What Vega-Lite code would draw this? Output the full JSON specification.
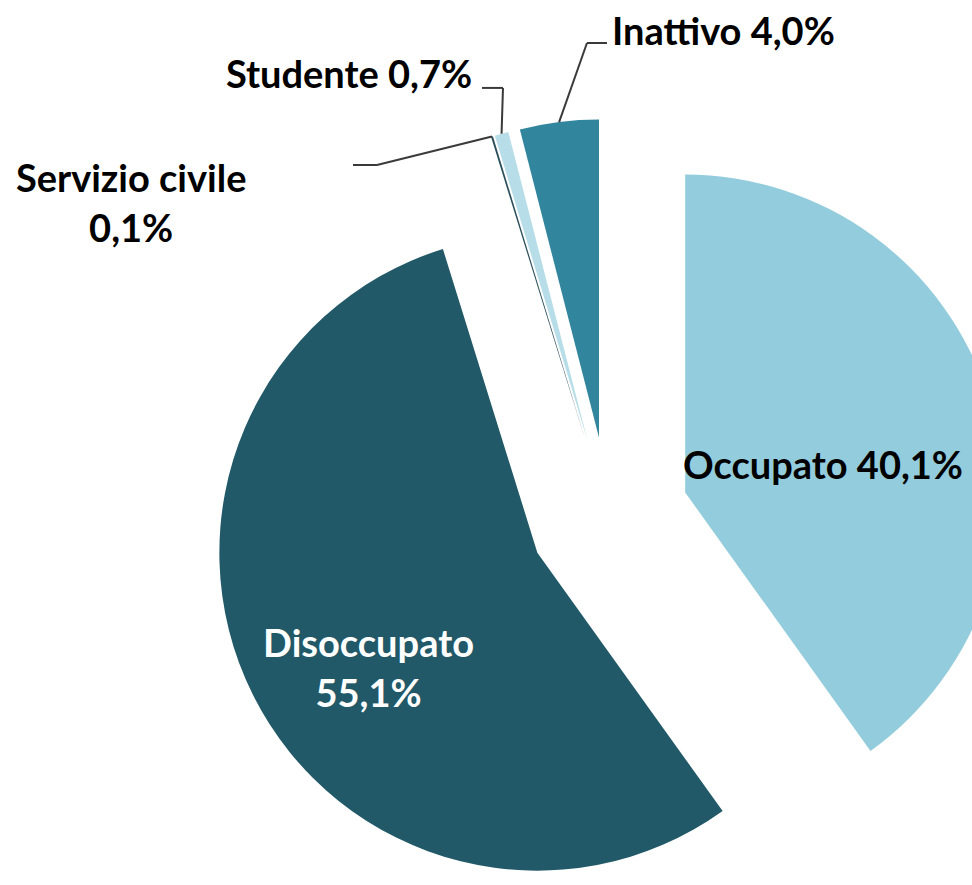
{
  "$schema": "https://vega.github.io/schema/vega-lite/v6.json",
  "width": 972,
  "height": 885,
  "autosize": "none",
  "padding": 0,
  "background": "white",
  "config": {"view": {"stroke": null}},
  "data": {
    "values": [
      {"cat": "Occupato", "pct": 40.1, "order": 1, "label": "Occupato 40,1%"},
      {"cat": "Disoccupato", "pct": 55.1, "order": 2, "label": "Disoccupato\n55,1%"},
      {"cat": "Servizio civile", "pct": 0.1, "order": 3, "label": "Servizio civile\n0,1%"},
      {"cat": "Studente", "pct": 0.7, "order": 4, "label": "Studente 0,7%"},
      {"cat": "Inattivo", "pct": 4.0, "order": 5, "label": "Inattivo 4,0%"}
    ]
  },
  "transform": [
    {"window": [{"op": "sum", "field": "pct", "as": "cum"}], "sort": [{"field": "order"}], "frame": [null, 0]},
    {"calculate": "datum.cum - datum.pct", "as": "cum0"},
    {"calculate": "datum.cum - datum.pct / 2", "as": "midp"},
    {"calculate": "2 * PI * datum.midp / 100", "as": "mid"},
    {"calculate": "0.244 * sin(datum.mid)", "as": "dx"},
    {"calculate": "0.244 * cos(datum.mid)", "as": "dy"},
    {"calculate": "datum.dx + 0.9695 * sin(datum.mid)", "as": "ex"},
    {"calculate": "datum.dy + 0.9695 * cos(datum.mid)", "as": "ey"},
    {"calculate": "datum.dx + (datum.cat == 'Inattivo' ? -0.0366 : datum.cat == 'Studente' ? -0.2573 : -0.6357)", "as": "e2x"},
    {"calculate": "datum.dy + (datum.cat == 'Inattivo' ? 1.2030 : datum.cat == 'Studente' ? 1.0732 : 0.8399)", "as": "e2y"},
    {"calculate": "datum.e2x + (datum.cat == 'Inattivo' ? 0.061 : datum.cat == 'Studente' ? -0.064 : -0.073)", "as": "e3x"},
    {"calculate": "datum.e2y", "as": "e3y"}
  ],
  "encoding": {
    "x": {"field": "dx", "type": "quantitative", "scale": {"domain": [-1.8567, 1.1067], "zero": false, "nice": false}, "axis": null},
    "y": {"field": "dy", "type": "quantitative", "scale": {"domain": [-1.122, 1.5762], "zero": false, "nice": false}, "axis": null}
  },
  "layer": [
    {
      "mark": {"type": "arc", "radius": 318},
      "encoding": {
        "theta": {"field": "cum0", "type": "quantitative", "stack": null, "scale": {"domain": [0, 100], "range": [0, 6.283185307179586]}},
        "theta2": {"field": "cum"},
        "color": {
          "field": "cat",
          "type": "nominal",
          "scale": {
            "domain": ["Occupato", "Disoccupato", "Servizio civile", "Studente", "Inattivo"],
            "range": ["#93CDDD", "#215968", "#2B4F5C", "#B7DEE8", "#31859C"]
          },
          "legend": null
        }
      }
    },
    {
      "transform": [{"filter": "datum.order >= 3"}],
      "mark": {"type": "rule", "color": "#3A3A3A", "strokeWidth": 2},
      "encoding": {
        "x": {"field": "ex", "type": "quantitative"},
        "y": {"field": "ey", "type": "quantitative"},
        "x2": {"field": "e2x"},
        "y2": {"field": "e2y"}
      }
    },
    {
      "transform": [{"filter": "datum.order >= 3"}],
      "mark": {"type": "rule", "color": "#3A3A3A", "strokeWidth": 2},
      "encoding": {
        "x": {"field": "e2x", "type": "quantitative"},
        "y": {"field": "e2y", "type": "quantitative"},
        "x2": {"field": "e3x"},
        "y2": {"field": "e3y"}
      }
    },
    {
      "transform": [{"filter": "datum.cat == 'Occupato'"}],
      "mark": {"type": "text", "radius": 140, "thetaOffset": 0.134, "font": "Lato", "fontWeight": "bold", "fontSize": 38, "align": "center", "baseline": "middle", "color": "#000000"},
      "encoding": {
        "theta": {"field": "midp", "type": "quantitative", "stack": null},
        "text": {"field": "label"}
      }
    },
    {
      "transform": [{"filter": "datum.cat == 'Disoccupato'"}],
      "mark": {"type": "text", "radius": 193, "thetaOffset": -0.044, "font": "Lato", "fontWeight": "bold", "fontSize": 38, "align": "center", "baseline": "middle", "color": "#FFFFFF", "lineBreak": "\n", "lineHeight": 50},
      "encoding": {
        "theta": {"field": "midp", "type": "quantitative", "stack": null},
        "text": {"field": "label"}
      }
    },
    {
      "transform": [{"filter": "datum.cat == 'Inattivo'"}],
      "mark": {"type": "text", "radius": 404, "thetaOffset": 0.158, "font": "Lato", "fontWeight": "bold", "fontSize": 38, "align": "left", "baseline": "middle", "color": "#000000"},
      "encoding": {
        "theta": {"field": "midp", "type": "quantitative", "stack": null},
        "text": {"field": "label"}
      }
    },
    {
      "transform": [{"filter": "datum.cat == 'Studente'"}],
      "mark": {"type": "text", "radius": 381, "thetaOffset": -0.034, "font": "Lato", "fontWeight": "bold", "fontSize": 38, "align": "right", "baseline": "middle", "color": "#000000"},
      "encoding": {
        "theta": {"field": "midp", "type": "quantitative", "stack": null},
        "text": {"field": "label"}
      }
    },
    {
      "transform": [{"filter": "datum.cat == 'Servizio civile'"}],
      "mark": {"type": "text", "radius": 523, "thetaOffset": -0.754, "font": "Lato", "fontWeight": "bold", "fontSize": 38, "align": "center", "baseline": "middle", "color": "#000000", "lineBreak": "\n", "lineHeight": 50},
      "encoding": {
        "theta": {"field": "midp", "type": "quantitative", "stack": null},
        "text": {"field": "label"}
      }
    }
  ]
}
